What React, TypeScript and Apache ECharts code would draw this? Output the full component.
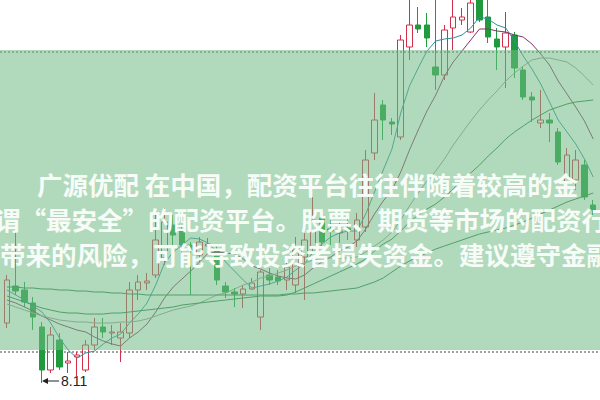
import React, { useEffect, useRef } from "react";
import * as echarts from "echarts";

// trading days (no axis labels shown in the picture)
const days: string[] = Array.from({ length: 68 }, (_, i) => `D${i + 1}`);

// [open, close, low, high]
const candles: number[][] = [
  [8.71, 9.14, 8.66, 9.19], [9.08, 9.03, 8.99, 9.62], [9.04, 8.92, 8.87, 9.12], [8.91, 8.77, 8.64, 8.97],
  [8.67, 8.24, 8.11, 8.72], [8.24, 8.59, 8.21, 8.67], [8.54, 8.27, 8.24, 8.61], [8.31, 8.33, 8.21, 8.42],
  [8.37, 8.39, 8.17, 8.42], [8.24, 8.49, 8.22, 8.54], [8.49, 8.67, 8.44, 8.76], [8.67, 8.62, 8.56, 8.76],
  [8.61, 8.62, 8.49, 8.69], [8.56, 8.62, 8.32, 8.71], [8.61, 9.04, 8.56, 9.12], [9.04, 9.12, 8.94, 9.19],
  [9.11, 9.13, 9.04, 9.21], [9.19, 9.54, 9.16, 9.79], [9.36, 9.72, 9.29, 9.86], [9.69, 9.59, 9.49, 9.79],
  [9.64, 9.49, 9.34, 9.69], [9.49, 9.44, 8.99, 9.52], [9.39, 9.52, 9.32, 9.57], [9.48, 9.50, 9.42, 9.56],
  [9.44, 9.14, 9.09, 9.49], [9.08, 9.02, 8.96, 9.12], [9.02, 9.00, 8.87, 9.06], [9.00, 9.05, 8.86, 9.09],
  [9.05, 9.11, 9.04, 9.16], [8.77, 9.22, 8.64, 9.24], [9.19, 9.14, 9.09, 9.26], [9.17, 9.13, 9.09, 9.24],
  [9.14, 9.27, 9.04, 9.34], [9.09, 9.44, 9.01, 9.57], [9.37, 9.54, 8.94, 9.61], [9.47, 9.74, 9.41, 9.97],
  [9.76, 9.52, 9.47, 9.79], [9.65, 9.63, 9.49, 9.74], [9.61, 9.63, 9.51, 9.72], [9.66, 9.64, 9.54, 9.76],
  [9.54, 9.74, 9.47, 9.81], [9.67, 10.34, 9.62, 10.44], [10.41, 10.74, 10.34, 11.01], [10.89, 10.74, 10.54, 10.94],
  [10.72, 10.70, 10.59, 10.76], [10.57, 11.54, 10.54, 11.59], [11.47, 11.69, 11.34, 11.99], [11.69, 11.65, 11.61, 11.87],
  [11.69, 11.56, 11.47, 11.81], [11.27, 11.19, 11.04, 11.99], [11.19, 11.64, 11.14, 11.69], [11.66, 11.77, 11.44, 11.99],
  [11.74, 11.77, 11.69, 11.86], [11.62, 11.91, 11.61, 11.99], [11.97, 11.74, 11.72, 11.99], [11.77, 11.57, 11.51, 11.97],
  [11.55, 11.47, 11.24, 11.66], [11.47, 11.61, 11.06, 11.82], [11.59, 11.26, 11.16, 11.62], [11.24, 10.97, 10.94, 11.27],
  [10.97, 10.94, 10.72, 11.02], [10.71, 10.74, 10.66, 11.04], [10.74, 10.71, 10.52, 10.81], [10.62, 10.32, 10.29, 10.66],
  [10.11, 10.39, 10.09, 10.46], [10.14, 10.34, 10.04, 10.44], [10.29, 9.97, 9.94, 10.34], [9.89, 9.84, 9.79, 9.94],
];

const ma5: number[] = [
  9.04, 8.99, 8.94, 8.88, 8.82, 8.71, 8.56, 8.44, 8.36, 8.41, 8.43, 8.50, 8.56, 8.60, 8.71, 8.80, 8.91,
  9.09, 9.31, 9.42, 9.49, 9.56, 9.55, 9.51, 9.42, 9.32, 9.23, 9.14, 9.06, 9.08, 9.10, 9.13, 9.17, 9.24,
  9.30, 9.42, 9.50, 9.57, 9.61, 9.63, 9.63, 9.80, 10.02, 10.24, 10.45, 10.81, 11.08, 11.26, 11.43, 11.53,
  11.55, 11.56, 11.59, 11.66, 11.77, 11.75, 11.69, 11.66, 11.53, 11.38, 11.25, 11.10, 10.92, 10.74, 10.62,
  10.50, 10.35, 10.17,
];
const ma10: number[] = [
  8.94, 8.91, 8.87, 8.83, 8.78, 8.74, 8.70, 8.67, 8.64, 8.62, 8.57, 8.53, 8.50, 8.48, 8.56, 8.62, 8.70,
  8.82, 8.96, 9.07, 9.15, 9.23, 9.32, 9.41, 9.42, 9.41, 9.40, 9.35, 9.28, 9.25, 9.21, 9.18, 9.16, 9.15,
  9.19, 9.26, 9.32, 9.37, 9.43, 9.47, 9.53, 9.65, 9.80, 9.93, 10.04, 10.22, 10.44, 10.64, 10.83, 10.99,
  11.18, 11.32, 11.43, 11.54, 11.65, 11.65, 11.63, 11.62, 11.59, 11.57, 11.50, 11.40, 11.29, 11.13, 11.00,
  10.87, 10.73, 10.55,
];
const ma20: number[] = [
  8.90, 8.87, 8.84, 8.81, 8.78, 8.76, 8.74, 8.73, 8.72, 8.72, 8.71, 8.71, 8.71, 8.72, 8.72, 8.73, 8.75,
  8.78, 8.81, 8.84, 8.86, 8.88, 8.91, 8.95, 8.99, 9.01, 9.05, 9.09, 9.12, 9.16, 9.18, 9.21, 9.24, 9.28,
  9.31, 9.34, 9.36, 9.36, 9.36, 9.36, 9.37, 9.42, 9.48, 9.54, 9.62, 9.74, 9.88, 10.01, 10.13, 10.23,
  10.35, 10.49, 10.61, 10.73, 10.84, 10.94, 11.03, 11.13, 11.21, 11.28, 11.34, 11.36, 11.36, 11.34, 11.32,
  11.26, 11.18, 11.09,
];
const ma30: number[] = [
  8.98, 8.95, 8.92, 8.89, 8.86, 8.84, 8.82, 8.81, 8.81, 8.80, 8.80, 8.80, 8.81, 8.81, 8.82, 8.83, 8.84,
  8.85, 8.86, 8.87, 8.89, 8.90, 8.91, 8.92, 8.93, 8.94, 8.95, 8.96, 8.97, 8.98, 8.98, 8.98, 8.99, 9.02,
  9.06, 9.10, 9.14, 9.18, 9.22, 9.26, 9.30, 9.35, 9.43, 9.50, 9.55, 9.63, 9.72, 9.79, 9.85, 9.90,
  9.97, 10.05, 10.13, 10.21, 10.29, 10.38, 10.46, 10.55, 10.62, 10.68, 10.74, 10.79, 10.84, 10.87, 10.90,
  10.92, 10.93, 10.94,
];
const ma60: number[] = [
  9.07, 9.07, 9.06, 9.06, 9.05, 9.05, 9.04, 9.04, 9.03, 9.03, 9.02, 9.02, 9.01, 9.01, 9.00, 9.00, 8.99,
  8.99, 8.99, 8.99, 8.99, 8.99, 8.99, 8.99, 8.99, 8.99, 8.99, 8.99, 8.99, 8.99, 8.99, 8.99, 9.00, 9.00,
  9.01, 9.01, 9.02, 9.03, 9.04, 9.05, 9.06, 9.09, 9.12, 9.16, 9.22, 9.28, 9.33, 9.37, 9.41, 9.45,
  9.48, 9.51, 9.54, 9.57, 9.60, 9.62, 9.64, 9.66, 9.69, 9.72, 9.76, 9.80, 9.84, 9.88, 9.92,
  9.95, 9.98, 10.01,
];

const lowIndex = 4;
const lowLabel = "8.11";

const textLines: string[] = [
  "广源优配 在中国，配资平台往往伴随着较高的金",
  "谓“最安全”的配资平台。股票、期货等市场的配资行",
  "带来的风险，可能导致投资者损失资金。建议遵守金融",
];

const line = (name: string, data: number[], color: string) => ({
  name,
  type: "line",
  data,
  symbol: "none",
  clip: false,
  lineStyle: { width: 1, color },
  z: 3,
});

export default function App() {
  const ref = useRef<HTMLDivElement>(null);
  useEffect(() => {
    document.body.style.margin = "0";
    if (!ref.current) return;
    const chart = echarts.init(ref.current, undefined, { renderer: "svg" });
    const dotted: any[] = [52, 352].map((y, k) => ({
      id: "dot" + k,
      type: "line",
      shape: { x1: 0, y1: y, x2: 600, y2: y },
      style: { stroke: "#a3a3a3", lineWidth: 2, lineDash: [2, 2] },
    }));
    const textX = [37, -5, 0];
    const textY = [183.5, 218.5, 253];
    const overlay = {
      name: "overlay",
      type: "custom",
      z: 20,
      zlevel: 0,
      silent: true,
      clip: false,
      data: [0],
      renderItem: () => ({
        type: "group",
        children: [
          {
            type: "rect",
            z2: 1,
            shape: { x: 0, y: 50, width: 600, height: 300 },
            style: { fill: "rgba(111,188,131,0.55)" },
          },
          ...textLines.map((t, k) => ({
            type: "text",
            z2: 2,
            x: textX[k],
            y: textY[k],
            style: {
              text: t,
              fill: "#f8fcf8",
              font: 'bold 25.5px "Noto Sans CJK SC", sans-serif',
              verticalAlign: "middle",
              align: "left",
            },
          })),
        ],
      }),
    };
    const option: any = {
      animation: false,
      backgroundColor: "#ffffff",
      grid: { left: 2.6, top: 0, width: 595, height: 400 },
      xAxis: { type: "category", data: days, show: false, boundaryGap: true },
      yAxis: { type: "value", min: 7.94, max: 11.94, show: false },
      series: [
        {
          name: "K",
          type: "candlestick",
          data: candles,
          barWidth: 6,
          clip: false,
          itemStyle: {
            color: "transparent",
            color0: "#1f9a3c",
            borderColor: "#d0304a",
            borderColor0: "#1f9a3c",
            borderWidth: 1,
          },
        },
        line("MA5", ma5, "#2f8f9f"),
        line("MA10", ma10, "#8b2f6b"),
        line("MA20", ma20, "#9a9a9a"),
        line("MA30", ma30, "#2e7d4a"),
        line("MA60", ma60, "#2e7d4a"),
        overlay,
      ],
      graphic: { elements: dotted },
    };
    chart.setOption(option);
    const [px, py] = chart.convertToPixel({ gridIndex: 0 }, [lowIndex, candles[lowIndex][2]]) as number[];
    chart.setOption({
      graphic: {
        elements: [
          ...dotted,
          {
            id: "arrowLine",
            type: "line",
            shape: { x1: px + 2, y1: py - 2, x2: px + 17, y2: py - 2 },
            style: { stroke: "#222", lineWidth: 1 },
          },
          {
            id: "arrowHead",
            type: "polygon",
            shape: { points: [[px, py - 2], [px + 6, py - 5], [px + 6, py + 1]] },
            style: { fill: "#222" },
          },
          {
            id: "lowTxt",
            type: "text",
            x: px + 19,
            y: py - 2,
            style: {
              text: lowLabel,
              fill: "#222",
              font: '14px "Liberation Sans", Arial, sans-serif',
              verticalAlign: "middle",
            },
          },
        ],
      },
    });
    return () => chart.dispose();
  }, []);
  return <div ref={ref} style={{ width: 600, height: 400 }} />;
}
